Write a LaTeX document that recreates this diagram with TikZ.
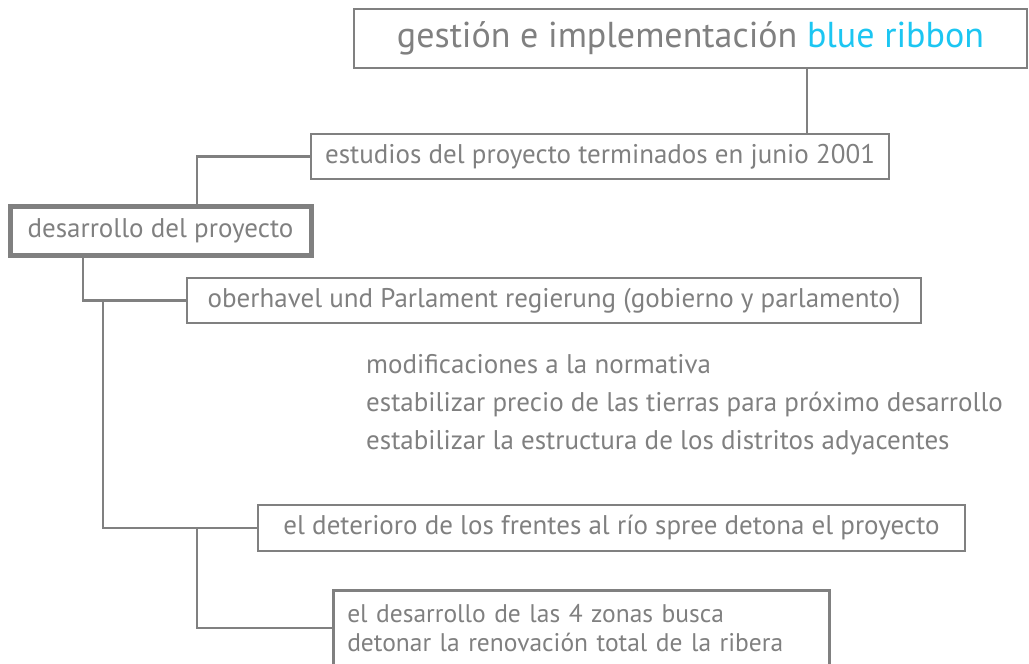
\documentclass[tikz,border=0pt]{standalone}
\usepackage{fontspec}
\setmainfont{PT Sans}
\definecolor{ribbongray}{HTML}{808080}
\definecolor{ribbonblue}{HTML}{1CC6F2}

\begin{document}
\begin{tikzpicture}[x=1pt,y=-1pt,
		every node/.style={text=ribbongray,font=\fontsize{27}{32}\selectfont},
		item/.style={draw=ribbongray,line width=2.5pt,fill=white,inner sep=0pt,minimum height=45pt},
		link/.style={draw=ribbongray,line width=2.5pt}]
		\useasboundingbox (0,0) rectangle (1029,664);
		\node[item,minimum width=673pt,minimum height=59pt,font=\fontsize{36}{42}\selectfont] (gestion) at (690.5,38.5) {gestión e implementación \textcolor{ribbonblue}{blue ribbon}};
		\node[item,minimum width=578pt] (estudios) at (600,156.5) {estudios del proyecto terminados en junio 2001};
		\node[item,minimum width=301pt,minimum height=49pt,line width=5pt] (desarrollo) at (160.5,230.5) {desarrollo del proyecto};
		\node[item,minimum width=734pt] (gobierno) at (554,300.5) {oberhavel und Parlament regierung (gobierno y parlamento)};
		\node[anchor=base west,inner sep=0pt] (normativa) at (366,373) {modificaciones a la normativa};
		\node[anchor=base west,inner sep=0pt] (tierras) at (366,411) {estabilizar precio de las tierras para próximo desarrollo};
		\node[anchor=base west,inner sep=0pt] (distritos) at (366,449) {estabilizar la estructura de los distritos adyacentes};
		\node[item,minimum width=707pt,minimum height=46pt] (spree) at (611.5,528) {el deterioro de los frentes al río spree detona el proyecto};
		\node[item,anchor=north west,minimum height=75pt,text width=468pt,inner xsep=14pt,align=left,font=\fontsize{25.5}{29}\selectfont] (zonas) at (332,589) {el desarrollo de las 4 zonas busca\\detonar la renovación total de la ribera};
		\coordinate (trunk) at (807,0);
		\coordinate (stem) at (197,0);
		\coordinate (root) at (83,0);
		\coordinate (spine) at (103,0);
		\draw[link] (gestion.south -| trunk) -- (estudios.north -| trunk);
		\draw[link] (estudios.west) -| (desarrollo.north -| stem);
		\draw[link] (desarrollo.south -| root) |- (gobierno.west);
		\draw[link] (gobierno.west -| spine) |- (spree.west);
		\draw[link] (spree.west -| stem) |- (zonas.west);
	\end{tikzpicture}
\end{document}
